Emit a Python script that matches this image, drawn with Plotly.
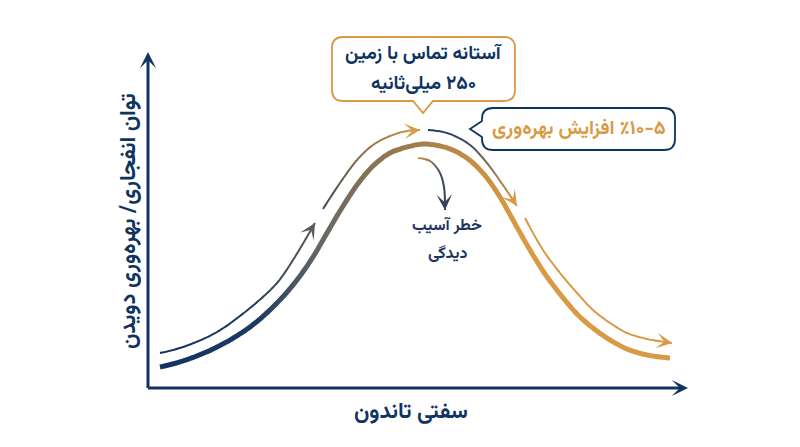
import math
import plotly.graph_objects as go

# ---------------- data (conceptual units: origin where the two axes meet) ----------------
# main curve: explosive power / running economy vs tendon stiffness
curve_x = [12, 35, 69, 102, 129, 149, 165, 175, 192, 209, 225, 242, 259, 275, 292, 309,
           325, 339, 352, 365, 379, 395, 412, 429, 445, 462, 479, 499, 522]
curve_y = [21, 27, 41, 61, 85, 108, 131, 148, 177, 203, 222, 235, 241, 244, 242, 236,
           225, 210, 191, 168, 143, 117, 94, 74, 60, 48, 39, 33, 30]

# outer guide arrows (four pieces)
arrowA_x = [12, 35, 69, 102, 129, 145, 167]
arrowA_y = [35, 41, 56, 80, 105, 128, 165]
arrowB_x = [175, 192, 209, 225, 242, 259, 272]
arrowB_y = [179, 205, 228, 243, 252, 257, 258]
arrowC_x = [280, 299, 322, 339, 359, 369]
arrowC_y = [258, 255, 243, 225, 197, 182]
arrowD_x = [377, 395, 412, 429, 445, 462, 479, 499, 524]
arrowD_y = [170, 138, 115, 95, 78, 65, 55, 49, 45]

# injury-risk arrow
risk_x = [270, 282, 292, 296, 297]
risk_y = [230, 227, 215, 201, 178]

threshold_x = 275
threshold_y = [245, 268]

x_axis_end = 540
y_axis_end = 336

# texts
x_title = "سفتی تاندون"
y_title = "توان انفجاری/ بهره\u200cوری دویدن"
box1_lines = ["آستانه تماس با زمین", "\u200f۲۵۰ میلی\u200cثانیه"]
box2_text = "\u061c۵-۱۰٪ افزایش بهره\u200cوری"
risk_lines = ["خطر آسیب", "دیدگی"]

# ---------------- styles ----------------
NAVY = "#0f3462"
GOLD = "#d99a45"
FONT = "Vazirmatn, Noto Sans Arabic, DejaVu Sans, sans-serif"

PAGE = 8               # body margin of the page
XOFF, YOFF = 148, 388  # page pixel position of the axes origin


def px(x, y):
    return x - XOFF, YOFF - y


def hex2rgb(h):
    h = h.lstrip("#")
    return tuple(int(h[i:i + 2], 16) for i in (0, 2, 4))


def grad(stops, x):
    if x <= stops[0][0]:
        return stops[0][1]
    for (x0, c0), (x1, c1) in zip(stops, stops[1:]):
        if x0 <= x <= x1:
            t = (x - x0) / (x1 - x0)
            a, b = hex2rgb(c0), hex2rgb(c1)
            r = [round(a[k] + (b[k] - a[k]) * t) for k in range(3)]
            return "rgb(%d,%d,%d)" % tuple(r)
    return stops[-1][1]


main_stops = [(0, NAVY), (110, "#1d3b62"), (170, "#646668"), (230, "#8c7453"),
              (275, "#a37f4c"), (330, "#c88f44"), (370, GOLD), (600, GOLD)]
A_stops = [(0, NAVY), (100, "#23395a"), (167, "#5a5a5c")]
B_stops = [(175, "#444a55"), (225, "#9a7a4c"), (272, GOLD)]
C_stops = [(280, "#1f3a62"), (320, "#404a5c"), (345, "#8e7654"), (369, GOLD)]
D_stops = [(0, GOLD), (600, GOLD)]
risk_stops = [(270, "#d09545"), (284, "#8a7356"), (292, "#4a4f5c"), (297, "#34425a")]

curves = [
    (curve_x, curve_y, main_stops, 5),
    (arrowA_x, arrowA_y, A_stops, 2),
    (arrowB_x, arrowB_y, B_stops, 2),
    (arrowC_x, arrowC_y, C_stops, 2),
    (arrowD_x, arrowD_y, D_stops, 2),
    (risk_x, risk_y, risk_stops, 2),
]

fig = go.Figure()
layout_axes = {}

# gradient: every curve is drawn as a smooth spline, repeated in narrow vertical strips
# (separate x axes sharing one mapping), each strip clipped and coloured by its position
STRIP = 3
p = 150
k = 2
while p < 700:
    p0, p1 = p, p + STRIP + 0.6
    name = "x%d" % k
    layout_axes["xaxis%d" % k] = dict(domain=[(p0 - PAGE) / 800, min(1, (p1 - PAGE) / 800)],
                                       range=[p0 - XOFF, p1 - XOFF], visible=False,
                                       anchor="y", fixedrange=True)
    mid = (p0 + p1) / 2 - XOFF
    for xs, ys, stops, w in curves:
        if min(xs) - 4 <= p1 - XOFF and max(xs) + 4 >= p0 - XOFF:
            fig.add_trace(go.Scatter(x=xs, y=ys, xaxis=name, yaxis="y", mode="lines",
                                     line=dict(color=grad(stops, mid), width=w, shape="spline",
                                               smoothing=1),
                                     hoverinfo="skip", showlegend=False))
    p += STRIP
    k += 1


def arrow_head(xs, ys, stops, size=1.3):
    dx, dy = xs[-1] - xs[-2], ys[-1] - ys[-2]
    L = math.hypot(dx, dy)
    fig.add_annotation(x=xs[-1], y=ys[-1], ax=xs[-1] - 8 * dx / L, ay=ys[-1] - 8 * dy / L,
                       xref="x", yref="y", axref="x", ayref="y", text="", showarrow=True,
                       arrowhead=3, arrowsize=size, arrowwidth=2,
                       arrowcolor=grad(stops, xs[-1]))


for xs, ys, stops, w in curves[1:]:
    arrow_head(xs, ys, stops)

# threshold tick
fig.add_trace(go.Scatter(x=[threshold_x, threshold_x], y=threshold_y, mode="lines",
                         line=dict(color=GOLD, width=1.5), hoverinfo="skip", showlegend=False))

# axes with arrowheads
fig.add_annotation(x=x_axis_end, y=0, ax=-1.5, ay=0, xref="x", yref="y", axref="x", ayref="y",
                   text="", showarrow=True, arrowhead=3, arrowsize=0.9, arrowwidth=3,
                   arrowcolor=NAVY)
fig.add_annotation(x=0, y=y_axis_end, ax=0, ay=-1.5, xref="x", yref="y", axref="x", ayref="y",
                   text="", showarrow=True, arrowhead=3, arrowsize=0.9, arrowwidth=3,
                   arrowcolor=NAVY)


def path_from_pixels(cmds):
    out = []
    for c in cmds:
        if isinstance(c, str):
            out.append(c)
        else:
            x, y = px(*c)
            out.append("%g,%g" % (x, y))
    return " ".join(out)


def rounded_box(l, r, t, b, rad, pointer):
    cmds = ["M", (l + rad, t), "L", (r - rad, t), "Q", (r, t), (r, t + rad)]
    cmds += ["L", (r, b - rad), "Q", (r, b), (r - rad, b)]
    if pointer[0] == "bottom":
        _, x0, x1, tip = pointer
        cmds += ["L", (x1, b), "L", tip, "L", (x0, b)]
    cmds += ["L", (l + rad, b), "Q", (l, b), (l, b - rad)]
    if pointer[0] == "left":
        _, y0, y1, tip = pointer
        cmds += ["L", (l, y1), "L", tip, "L", (l, y0)]
    cmds += ["L", (l, t + rad), "Q", (l, t), (l + rad, t), "Z"]
    return path_from_pixels(cmds)


fig.add_shape(type="path", xref="x", yref="y",
              path=rounded_box(332, 515, 37, 101, 11, ("bottom", 413, 433, (423, 113))),
              line=dict(color=GOLD, width=1.8), fillcolor="white", layer="above")
fig.add_shape(type="path", xref="x", yref="y",
              path=rounded_box(482, 675, 108, 150, 11, ("left", 121, 137, (470, 129))),
              line=dict(color=NAVY, width=1.8), fillcolor="white", layer="above")


def label(xp, yp, text, color, size, angle=0):
    x, y = px(xp, yp)
    fig.add_annotation(x=x, y=y, xref="x", yref="y", text="<b>%s</b>" % text,
                       showarrow=False, textangle=angle, borderpad=0,
                       font=dict(family=FONT, size=size, color=color),
                       xanchor="center", yanchor="middle")


label(423.5, 54, box1_lines[0], NAVY, 19)
label(423.5, 84, box1_lines[1], NAVY, 19)
label(579, 129, box2_text, GOLD, 19.5)
label(447, 226, risk_lines[0], "#1b3560", 16)
label(447, 254, risk_lines[1], "#1b3560", 16)
label(411, 412, x_title, NAVY, 22)
label(129, 221, y_title, NAVY, 22, angle=-90)

fig.update_layout(
    width=800, height=447, margin=dict(l=0, r=0, t=0, b=0),
    paper_bgcolor="white", plot_bgcolor="white",
    xaxis=dict(visible=False, range=[PAGE - XOFF, 800 + PAGE - XOFF], domain=[0, 1],
               fixedrange=True),
    yaxis=dict(visible=False, range=[YOFF - 447 - PAGE, YOFF - PAGE], domain=[0, 1],
               fixedrange=True),
    showlegend=False,
    **layout_axes,
)

fig.write_html("out.html")
